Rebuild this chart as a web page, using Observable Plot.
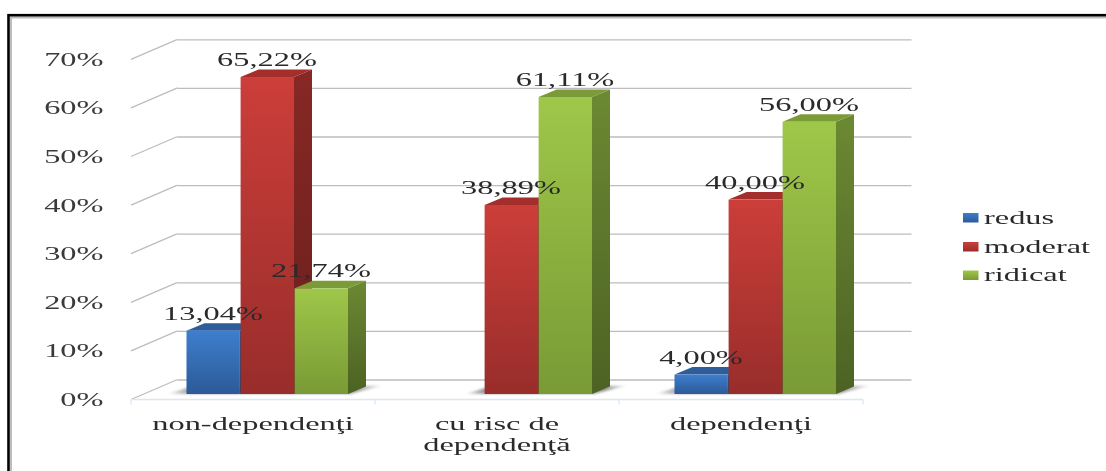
<!DOCTYPE html>
<html>
<head>
<meta charset="utf-8">
<script src="https://cdn.jsdelivr.net/npm/d3@7"></script>
<script src="https://cdn.jsdelivr.net/npm/@observablehq/plot@0.6"></script>
<style>
html,body{margin:0;padding:0;background:#fff}
svg{display:block;overflow:visible;filter:blur(.4px)}
</style>
</head>
<body>
<div id="chart"></div>
<script>
const categories = ["non-dependenţi", "cu risc de\ndependenţă", "dependenţi"];
const seriesNames = ["redus", "moderat", "ridicat"];
const redus = [13.04, null, 4.00];
const moderat = [65.22, 38.89, 40.00];
const ridicat = [21.74, 61.11, 56.00];
const yTicks = [0, 10, 20, 30, 40, 50, 60, 70];

const values = {redus, moderat, ridicat};
const rows = seriesNames.flatMap(s => categories.map((c, i) => ({cat: c, series: s, value: values[s][i]})))
  .filter(d => d.value != null);

const styles = {
  redus:   {top: "#3e7ecd", bottom: "#2c5a98", cap: "#2e5d99", sideTop: "#2b5288", sideBottom: "#1f3f6c", left: 54.5, right: 136.1, dx: -41.5},
  moderat: {top: "#cc3e39", bottom: "#982d2b", cap: "#a32e2c", sideTop: "#872825", sideBottom: "#6a1f1d", left: 108.6, right: 82, dx: 12.5},
  ridicat: {top: "#9fc749", bottom: "#799a35", cap: "#7b9b39", sideTop: "#6c8933", sideBottom: "#4c6223", left: 162.6, right: 28, dx: 66.5}
};
const depth = {dx: 18, dy: -7.5};
const wall = {dx: 46.5, dy: -14.5, front: 5.5};
const NS = "http://www.w3.org/2000/svg";
const el = (name, attrs, parent) => {
  const e = document.createElementNS(NS, name);
  for (const k in attrs) e.setAttribute(k, attrs[k]);
  if (parent) parent.appendChild(e);
  return e;
};
const poly = (pts, fill, parent, extra = {}) =>
  el("polygon", {points: pts.map(p => p.join(",")).join(" "), fill, ...extra}, parent);

// gradients, page frame, left wall strokes, category axis
const backdrop = (index, {x, y}) => {
  const g = el("g", {});
  const defs = el("defs", {}, g);
  const blur = el("filter", {id: "soft", x: "-20%", y: "-50%", width: "140%", height: "200%"}, defs);
  el("feGaussianBlur", {stdDeviation: "0.8"}, blur);
  const shade = el("linearGradient", {id: "shade", x1: 0, x2: 1, y1: 0, y2: 0}, defs);
  [["0", 0], ["0.12", 0.75], ["0.86", 0.75], ["1", 0]].forEach(([offset, o]) =>
    el("stop", {offset, "stop-color": "#777", "stop-opacity": o}, shade));
  for (const s of seriesNames) {
    for (const [id, a, b] of [[`f-${s}`, styles[s].top, styles[s].bottom], [`s-${s}`, styles[s].sideTop, styles[s].sideBottom]]) {
      const lg = el("linearGradient", {id, x1: 0, x2: 0, y1: 0, y2: 1}, defs);
      el("stop", {offset: "0", "stop-color": a}, lg);
      el("stop", {offset: "1", "stop-color": b}, lg);
    }
  }
  el("rect", {x: 11, y: 17.5, width: 1100, height: 470, fill: "none", stroke: "#bdbdbd", "stroke-width": 2}, g);
  el("rect", {x: 8.5, y: 15.2, width: 1110, height: 470, fill: "none", stroke: "#000", "stroke-width": 2.6}, g);
  const [x0] = x.range();
  for (const v of yTicks) {
    el("line", {x1: x0, y1: y(v) + wall.front, x2: x0 + wall.dx, y2: y(v) + wall.dy, stroke: "#bdbdbd", "stroke-width": 1.3}, g);
  }
  const bw = x.bandwidth();
  const axisY = y(0) + wall.front;
  el("line", {x1: x0, x2: x0 + bw * categories.length, y1: axisY, y2: axisY, stroke: "#dbe7f4", "stroke-width": 1.3}, g);
  for (let i = 0; i <= categories.length; i++) {
    const tx = x0 + i * bw;
    el("line", {x1: tx, x2: tx, y1: axisY, y2: axisY + 5, stroke: "#dbe7f4", "stroke-width": 1.3}, g);
  }
  return g;
};

// ground shadows below each bar group
const shadows = (index, {x, y}) => {
  const g = el("g", {filter: "url(#soft)"});
  const b = y(0);
  for (const c of categories) {
    const present = rows.filter(d => d.cat === c).map(d => styles[d.series]);
    const l = x(c) + d3.min(present, p => p.left);
    const r = x(c) + x.bandwidth() - d3.min(present, p => p.right);
    poly([[l - 20, b], [r + 2, b], [r + 36, b - 8.5], [l, b - 6]], "url(#shade)", g);
  }
  return g;
};

// the top and side faces of one series
const faces = s => (index, {x, y}) => {
  const g = el("g", {});
  const st = styles[s];
  for (const d of rows.filter(r => r.series === s)) {
    const l = x(d.cat) + st.left, r = x(d.cat) + x.bandwidth() - st.right;
    const t = y(d.value), b = y(0), {dx, dy} = depth;
    poly([[r, t], [r + dx, t + dy], [r + dx, b + dy], [r, b]], `url(#s-${s})`, g);
    poly([[l, t], [l + dx, t + dy], [r + dx, t + dy], [r, t]], st.cap, g);
  }
  return g;
};

const textOpts = {fontFamily: "Liberation Serif", fontSize: 18, fill: "#2a2a2a", stroke: null};
const fmt = v => v.toFixed(2).replace(".", ",") + "%";

// legend, in the right margin
const legend = () => {
  const g = el("g", {});
  const ys = [217.5, 246.5, 275];
  seriesNames.forEach((s, i) => {
    el("rect", {x: 963, y: ys[i] - 4.5, width: 15.5, height: 9.5, fill: `url(#f-${s})`}, g);
    const t = el("text", {transform: `translate(984,${ys[i] + 6})`, "font-family": "Liberation Serif", "font-size": 18, fill: "#2a2a2a", "text-anchor": "start"}, g);
    t.textContent = s;
  });
  return g;
};

const chart = Plot.plot({
  width: 1106,
  height: 471,
  marginLeft: 131,
  marginRight: 241,
  marginTop: 53.8,
  marginBottom: 77,
  style: {background: "transparent"},
  x: {domain: categories, padding: 0, label: null, axis: null},
  y: {domain: [0, 70], label: null, axis: null},
  marks: [
    backdrop,
    Plot.ruleY(yTicks, {dx: wall.dx, dy: wall.dy, stroke: "#bdbdbd", strokeWidth: 1.3}),
    shadows,
    ...seriesNames.flatMap(s => [
      faces(s),
      Plot.barY(rows.filter(d => d.series === s), {
        x: "cat", y: "value",
        fill: `url(#f-${s})`,
        insetLeft: styles[s].left,
        insetRight: styles[s].right
      })
    ]),
    Plot.axisY({ticks: yTicks, tickSize: 0, tickPadding: 0, dx: -28, dy: 11.5, tickFormat: d => d + "%", label: null, fontSize: 18, fontFamily: "Liberation Serif", fill: "#3a3a3a", textAnchor: "end", lineAnchor: "bottom"}),
    Plot.axisX({tickSize: 0, label: null, fontSize: 18, fontFamily: "Liberation Serif", fill: "#2a2a2a", tickPadding: 0, dx: -1.5, dy: 20, lineHeight: 1.2, lineAnchor: "top"}),
    ...seriesNames.map(s => Plot.text(rows.filter(d => d.series === s), {
      x: "cat", y: "value",
      text: d => fmt(d.value),
      dx: styles[s].dx,
      dy: -11.5,
      textAnchor: "middle",
      lineAnchor: "bottom",
      ...textOpts
    })),
    legend
  ]
});
// the reference's lettering is stretched horizontally
const stretch = 1.8;
chart.querySelectorAll("text").forEach(t => {
  const tr = t.getAttribute("transform") || "";
  t.setAttribute("transform", tr + ` scale(${stretch},1)`);
});
document.getElementById("chart").appendChild(chart);
</script>
</body>
</html>
